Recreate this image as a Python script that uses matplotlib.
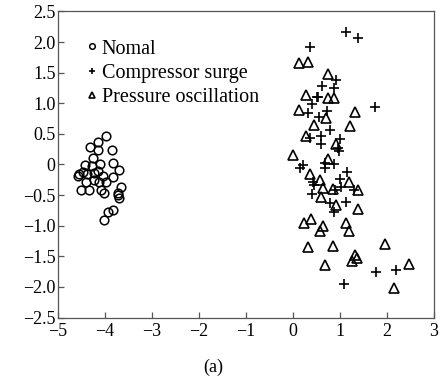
import matplotlib
matplotlib.use("Agg")
import matplotlib.pyplot as plt
from matplotlib.ticker import FixedLocator, FixedFormatter

# ------------------------------------------------------------------
# Data
# ------------------------------------------------------------------
normal_x = [-3.98, -4.32, -4.15, -4.14, -3.85, -4.26, -4.42, -4.28, -4.11, -3.83,
            -3.69, -4.54, -4.47, -4.56, -4.37, -4.23, -4.14, -4.03, -3.82, -4.40,
            -4.24, -4.12, -3.97, -3.66, -4.51, -4.33, -4.09, -4.01, -3.72, -3.70,
            -3.71, -3.83, -3.94, -4.01]
normal_y = [0.47, 0.28, 0.36, 0.23, 0.23, 0.10, -0.01, -0.03, 0.01, 0.02,
            -0.09, -0.15, -0.13, -0.18, -0.16, -0.14, -0.10, -0.19, -0.21, -0.28,
            -0.26, -0.28, -0.29, -0.36, -0.41, -0.41, -0.41, -0.47, -0.47, -0.54,
            -0.50, -0.74, -0.78, -0.91]

surge_x = [1.12, 1.38, 0.37, 0.92, 0.61, 0.87, 0.51, 0.54, 0.40, 0.72,
           0.33, 0.56, 1.75, 0.80, 0.37, 0.60, 0.60, 1.00, 0.95, 0.98,
           0.21, 0.15, 0.68, 0.68, 0.88, 1.15, 1.00, 0.42, 0.45, 1.02,
           0.90, 1.30, 0.40, 0.79, 0.88, 1.12, 1.76, 2.19, 1.09]
surge_y = [2.16, 2.06, 1.92, 1.38, 1.29, 1.25, 1.11, 1.10, 0.99, 0.88,
           0.84, 0.78, 0.94, 0.56, 0.43, 0.46, 0.34, 0.41, 0.27, 0.22,
           -0.01, -0.06, 0.02, -0.06, 0.01, -0.13, -0.24, -0.28, -0.33, -0.36,
           -0.41, -0.42, -0.48, -0.63, -0.77, -0.61, -1.76, -1.72, -1.95]

osc_x = [0.14, 0.33, 0.75, 0.27, 0.75, 0.88, 0.13, 1.32, 0.71, 0.44,
         1.22, 0.27, 0.91, 0.01, 0.75, 0.37, 0.58, 1.20, 0.64, 0.86,
         1.39, 0.60, 0.92, 1.39, 0.38, 0.24, 1.14, 0.65, 0.58, 1.19,
         0.33, 0.85, 1.95, 1.32, 1.36, 1.25, 0.69, 2.46, 2.16]
osc_y = [1.66, 1.68, 1.48, 1.14, 1.08, 1.08, 0.89, 0.85, 0.76, 0.65,
         0.63, 0.47, 0.34, 0.15, 0.09, -0.15, -0.25, -0.28, -0.39, -0.40,
         -0.42, -0.53, -0.66, -0.73, -0.89, -0.96, -0.96, -1.01, -1.08, -1.09,
         -1.34, -1.33, -1.30, -1.48, -1.53, -1.57, -1.64, -1.63, -2.02]

x_ticks = [-5, -4, -3, -2, -1, 0, 1, 2, 3]
x_labels = ["\u22125", "\u22124", "\u22123", "\u22122", "\u22121", "0", "1", "2", "3"]
y_ticks = [2.5, 2.0, 1.5, 1.0, 0.5, 0, -0.5, -1.0, -1.5, -2.0, -2.5]
y_labels = ["2.5", "2.0", "1.5", "1.0", "0.5", "0", "\u22120.5", "\u22121.0",
            "\u22121.5", "\u22122.0", "\u22122.5"]

# ------------------------------------------------------------------
# Plot
# ------------------------------------------------------------------
plt.rcParams["font.family"] = ["Liberation Serif", "DejaVu Serif"]
plt.rcParams["font.size"] = 13

fig = plt.figure(figsize=(4.41, 3.83), dpi=100)
ax = fig.add_axes([0.131, 0.171, 0.853, 0.799])

ax.plot(normal_x, normal_y, "o", ms=6.2, mfc="none", mec="black", mew=1.1,
        ls="none", label="Nomal")
ax.plot(surge_x, surge_y, "+", ms=7, mec="black", mew=1.2,
        ls="none", label="Compressor surge")
ax.plot(osc_x, osc_y, "^", ms=7, mfc="none", mec="black", mew=1.2,
        ls="none", label="Pressure oscillation")

ax.set_xlim(-5, 3)
ax.set_ylim(-2.5, 2.5)
ax.xaxis.set_major_locator(FixedLocator(x_ticks))
ax.xaxis.set_major_formatter(FixedFormatter(x_labels))
ax.yaxis.set_major_locator(FixedLocator(y_ticks))
ax.yaxis.set_major_formatter(FixedFormatter(y_labels))
ax.tick_params(direction="in", length=4.5, width=0.9, color="#555555",
               labelsize=13)
ax.tick_params(axis="x", pad=4)
ax.tick_params(axis="y", pad=1.5)
for sp in ax.spines.values():
    sp.set_color("#555555")
    sp.set_linewidth(0.9)

ax.legend(loc="upper left", bbox_to_anchor=(0.055, 0.935), frameon=False,
          markerscale=0.65, handlelength=0.5, handletextpad=0.25,
          labelspacing=0.25, borderaxespad=0, fontsize=14.5)

fig.text(0.483, 0.04, "(a)", ha="center", va="center", fontsize=13)

fig.savefig("out.png", dpi=100)
